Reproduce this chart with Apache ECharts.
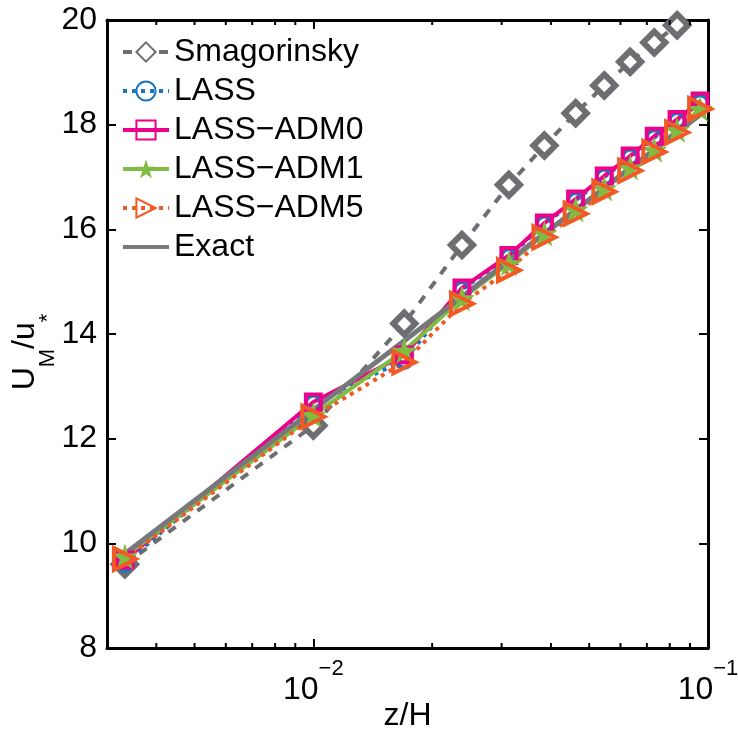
<!DOCTYPE html>
<html><head><meta charset="utf-8">
<script src="https://cdn.jsdelivr.net/npm/echarts@6/dist/echarts.min.js"></script>
<style>html,body{margin:0;padding:0;background:#fff}#c{width:738px;height:732px}</style>
</head><body><div id="c"></div>
<script>
// ---- data ----
const zH          = [0.00333, 0.0100, 0.0170, 0.0238, 0.0313, 0.0385, 0.0462, 0.0546, 0.0635, 0.0731, 0.0835, 0.0955];
const smagorinsky = [9.60, 12.25, 14.20, 15.70, 16.85, 17.60, 18.22, 18.75, 19.20, 19.57, 19.90, 20.30];
const lass        = [9.62, 12.68, 13.50, 14.85, 15.48, 16.10, 16.55, 17.00, 17.38, 17.75, 18.08, 18.42];
const lassAdm0    = [9.68, 12.70, 13.60, 14.88, 15.50, 16.12, 16.58, 17.02, 17.40, 17.78, 18.10, 18.45];
const lassAdm1    = [9.75, 12.45, 13.68, 14.68, 15.35, 15.92, 16.38, 16.78, 17.18, 17.52, 17.90, 18.30];
const lassAdm5    = [9.70, 12.42, 13.46, 14.58, 15.22, 15.85, 16.30, 16.72, 17.12, 17.48, 17.85, 18.30];
const exact       = [9.80, 12.55, 13.87, 14.71, 15.40, 15.92, 16.37, 16.79, 17.17, 17.52, 17.85, 18.19];
const xTickValues = [0.01, 0.1];
const xTickExps   = ['\u22122', '\u22121'];
const minorTicks  = [0.004, 0.005, 0.006, 0.007, 0.008, 0.009, 0.02, 0.03, 0.04, 0.05, 0.06, 0.07, 0.08, 0.09];
const yMin = 8, yMax = 20, yStep = 2;
const xMin = 0.003, xMax = 0.1;

const FONT = 'Liberation Sans';
const pairs = arr => zH.map((z, i) => [z, arr[i]]);
const star = 'path://M50,0 L61.8,35.4 L99,35.4 L68.9,57.3 L80.3,92.7 L50,70.8 L19.7,92.7 L31.1,57.3 L1,35.4 L38.2,35.4 Z';

const chart = echarts.init(document.getElementById('c'), null, {renderer: 'canvas'});
const axisLine = {show: true, onZero: false, lineStyle: {color: '#000', width: 3}};

chart.setOption({
  animation: false,
  backgroundColor: '#fff',
  grid: {left: 107, right: 30, top: 20, bottom: 84, containLabel: false, outerBoundsMode: 'none'},
  legend: {
    left: 116, top: 31, orient: 'vertical', itemGap: 7, itemWidth: 46, itemHeight: 24,
    lineStyle: {width: 4},
    textStyle: {fontFamily: FONT, fontSize: 32, color: '#000'},
    data: ['Smagorinsky', 'LASS', 'LASS\u2212ADM0', 'LASS\u2212ADM1', 'LASS\u2212ADM5',
           {name: 'Exact', itemStyle: {opacity: 0}}]
  },
  xAxis: [{
    type: 'log', min: xMin, max: xMax, position: 'bottom',
    name: 'z/H', nameLocation: 'middle', nameGap: 52, nameMoveOverlap: false,
    nameTextStyle: {fontFamily: FONT, fontSize: 32, color: '#000'},
    axisLine: axisLine,
    axisTick: {inside: true, length: 9, lineStyle: {color: '#000', width: 2}},
    splitLine: {show: false},
    axisLabel: {
      margin: 10, showMinLabel: false,
      formatter: v => {
        const i = xTickValues.findIndex(t => Math.abs(t - v) / t < 1e-6);
        return i < 0 ? '' : '{b|10}{e|' + xTickExps[i] + '}';
      },
      rich: {
        b: {fontFamily: FONT, fontSize: 32, color: '#000', lineHeight: 48, verticalAlign: 'bottom'},
        e: {fontFamily: FONT, fontSize: 22, color: '#000', lineHeight: 22, verticalAlign: 'top'}
      }
    }
  }, {
    type: 'log', min: xMin, max: xMax, position: 'top',
    axisLine: axisLine,
    axisTick: {inside: true, length: 9, lineStyle: {color: '#000', width: 2}},
    axisLabel: {show: false}, splitLine: {show: false}
  }],
  yAxis: [{
    type: 'value', min: yMin, max: yMax, interval: yStep, position: 'left',
    name: '{a|U}{b|M}{a|/u}{b|*}', nameLocation: 'middle', nameGap: 48, nameRotate: 90,
    nameMoveOverlap: false,
    nameTextStyle: {
      padding: [0, 36, 0, 0],
      rich: {
        a: {fontFamily: FONT, fontSize: 32, color: '#000', lineHeight: 32, verticalAlign: 'top'},
        b: {fontFamily: FONT, fontSize: 22, color: '#000', lineHeight: 50, verticalAlign: 'bottom'}
      }
    },
    axisLine: axisLine,
    axisTick: {inside: true, length: 9, lineStyle: {color: '#000', width: 2}},
    splitLine: {show: false},
    axisLabel: {margin: 10, fontFamily: FONT, fontSize: 32, color: '#000'}
  }, {
    type: 'value', min: yMin, max: yMax, interval: yStep, position: 'right',
    axisLine: axisLine,
    axisTick: {inside: true, length: 9, lineStyle: {color: '#000', width: 2}},
    axisLabel: {show: false}, splitLine: {show: false}
  }],
  series: [
    {
      name: 'minor', type: 'custom', silent: true, z: 5, clip: false,
      data: minorTicks.map(v => [v, yMin]),
      encode: {x: 0, y: 1},
      renderItem: (params, api) => {
        const v = api.value(0);
        const b = api.coord([v, yMin]);
        const t = api.coord([v, yMax]);
        const st = {stroke: '#000', lineWidth: 2};
        return {type: 'group', children: [
          {type: 'line', shape: {x1: b[0], y1: b[1], x2: b[0], y2: b[1] - 5}, style: st},
          {type: 'line', shape: {x1: t[0], y1: t[1], x2: t[0], y2: t[1] + 5}, style: st}
        ]};
      }
    },
    {
      name: 'Smagorinsky', type: 'line', data: pairs(smagorinsky),
      symbol: 'diamond', symbolSize: 22, showAllSymbol: true,
      lineStyle: {color: '#6d6e71', width: 4, type: [9, 9]},
      itemStyle: {color: '#fff', borderColor: '#6d6e71', borderWidth: 6}
    },
    {
      name: 'LASS', type: 'line', data: pairs(lass),
      symbol: 'circle', symbolSize: 15,
      lineStyle: {color: '#1b75bc', width: 4, type: [4, 5]},
      itemStyle: {color: 'rgba(255,255,255,0)', borderColor: '#1b75bc', borderWidth: 4}
    },
    {
      name: 'LASS\u2212ADM0', type: 'line', data: pairs(lassAdm0),
      symbol: 'rect', symbolSize: 15,
      lineStyle: {color: '#ec008c', width: 4},
      itemStyle: {color: 'rgba(255,255,255,0)', borderColor: '#ec008c', borderWidth: 4}
    },
    {
      name: 'LASS\u2212ADM1', type: 'line', data: pairs(lassAdm1),
      symbol: star, symbolSize: 26,
      lineStyle: {color: '#80bc42', width: 4},
      itemStyle: {color: '#80bc42', borderColor: '#80bc42', borderWidth: 0}
    },
    {
      name: 'LASS\u2212ADM5', type: 'line', data: pairs(lassAdm5),
      symbol: 'triangle', symbolSize: 22, symbolRotate: -90,
      lineStyle: {color: '#f15a24', width: 4, type: [4, 5]},
      itemStyle: {color: 'rgba(255,255,255,0)', borderColor: '#f15a24', borderWidth: 4}
    },
    {
      name: 'Exact', type: 'line', data: pairs(exact),
      symbol: 'none', showSymbol: false,
      lineStyle: {color: '#77787b', width: 5},
      itemStyle: {color: '#77787b'}
    }
  ]
});
</script>
</body></html>
